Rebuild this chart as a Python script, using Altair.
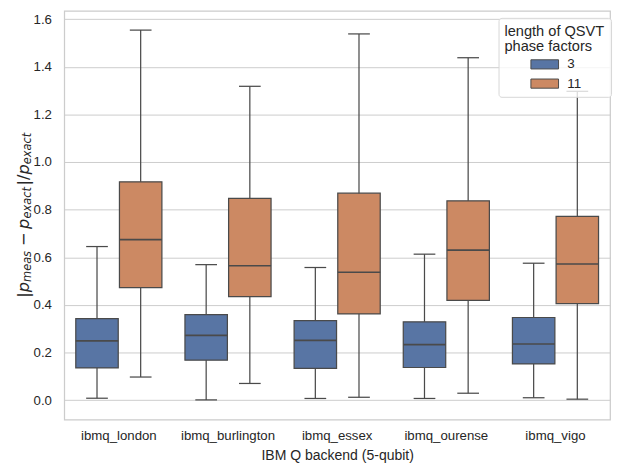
import altair as alt
import pandas as pd

# ---------------- data ----------------
backends = ["ibmq_london", "ibmq_burlington", "ibmq_essex", "ibmq_ourense", "ibmq_vigo"]
lengths = ["3", "11"]

# QSVT phase-factor length 3
lo_3 = [0.008, 0.001, 0.007, 0.007, 0.010]
q1_3 = [0.135, 0.168, 0.133, 0.137, 0.152]
med_3 = [0.249, 0.272, 0.251, 0.233, 0.236]
q3_3 = [0.342, 0.359, 0.334, 0.329, 0.347]
hi_3 = [0.645, 0.569, 0.557, 0.613, 0.575]

# QSVT phase-factor length 11
lo_11 = [0.097, 0.070, 0.012, 0.029, 0.004]
q1_11 = [0.472, 0.435, 0.362, 0.419, 0.405]
med_11 = [0.674, 0.564, 0.537, 0.630, 0.572]
q3_11 = [0.917, 0.847, 0.869, 0.837, 0.772]
hi_11 = [1.554, 1.318, 1.538, 1.438, 1.297]

y_ticks = [0.0, 0.2, 0.4, 0.6, 0.8, 1.0, 1.2, 1.4, 1.6]
y_domain = [-0.0817, 1.6344]

x_title = "IBM Q backend (5-qubit)"
legend_title = ["length of QSVT", "phase factors"]

# ---------------- table ----------------
rows = []
for ln, lo, q1, md, q3, hi in [
    ("3", lo_3, q1_3, med_3, q3_3, hi_3),
    ("11", lo_11, q1_11, med_11, q3_11, hi_11),
]:
    for i, b in enumerate(backends):
        rows.append(dict(backend=b, length=ln, lo=lo[i], q1=q1[i], med=md[i], q3=q3[i], hi=hi[i]))
df = pd.DataFrame(rows)

# ---------------- styling ----------------
BLUE = "#5875a4"
ORANGE = "#cc8963"
LINE = "#4a4a4a"
GRID = "#cccccc"
TXT = "#262626"
FONT = "Liberation Sans"
W, H = 553, 414

x_enc = alt.X(
    "backend:N",
    sort=backends,
    scale=alt.Scale(paddingInner=0, paddingOuter=0),
    axis=alt.Axis(
        title=x_title,
        labelAngle=0,
        labelPadding=9.5,
        ticks=False,
        tickSize=0,
        domain=False,
        grid=False,
        labelFontSize=13.4,
        titleFontSize=14.2,
        titleFontWeight="normal",
        titleY=29.5,
    ),
)
xo_enc = alt.XOffset("length:N", sort=lengths, scale=alt.Scale(paddingInner=0, paddingOuter=0.25))
y_scale = alt.Scale(domain=y_domain, nice=False, zero=False)
y_axis = alt.Axis(
    title=None,
    values=y_ticks,
    format=".1f",
    ticks=False,
    tickSize=0,
    domain=False,
    grid=True,
    gridColor=GRID,
    gridWidth=1,
    labelPadding=13,
    labelFontSize=13.4,
)

base = alt.Chart(df)

whisker = base.mark_rule(color=LINE, strokeWidth=1.25).encode(
    x=x_enc, xOffset=xo_enc,
    y=alt.Y("lo:Q", scale=y_scale, axis=y_axis),
    y2="hi:Q",
)

box = base.mark_bar(size=43, stroke=LINE, strokeWidth=1.25, opacity=1).encode(
    x=x_enc, xOffset=xo_enc,
    y=alt.Y("q1:Q", scale=y_scale, axis=y_axis),
    y2="q3:Q",
    color=alt.Color(
        "length:N",
        sort=lengths,
        scale=alt.Scale(domain=lengths, range=[BLUE, ORANGE]),
        legend=alt.Legend(
            title=legend_title,
            orient="none",
            legendX=440,
            legendY=7,
            padding=6,
            fillColor="rgba(255,255,255,0.8)",
            strokeColor="#d6d6d6",
            cornerRadius=3,
            titleFont=FONT,
            titleFontSize=14.8,
            titleFontWeight="normal",
            titleColor=TXT,
            titleLineHeight=15.5,
            titlePadding=4,
            titleLimit=300,
            labelFont=FONT,
            labelFontSize=13.6,
            labelColor=TXT,
            symbolType="M-2.8,-0.93L2.8,-0.93L2.8,0.93L-2.8,0.93Z",
            symbolSize=100,
            symbolStrokeColor=LINE,
            symbolStrokeWidth=1,
            symbolOffset=34,
            labelOffset=16,
            rowPadding=4.5,
        ),
    ),
)

median = base.mark_tick(size=43, thickness=1.6, color=LINE, opacity=1).encode(
    x=x_enc, xOffset=xo_enc, y=alt.Y("med:Q", scale=y_scale, axis=y_axis)
)
cap_lo = base.mark_tick(size=22, thickness=1.25, color=LINE, opacity=1).encode(
    x=x_enc, xOffset=xo_enc, y=alt.Y("lo:Q", scale=y_scale, axis=y_axis)
)
cap_hi = base.mark_tick(size=22, thickness=1.25, color=LINE, opacity=1).encode(
    x=x_enc, xOffset=xo_enc, y=alt.Y("hi:Q", scale=y_scale, axis=y_axis)
)

# ---------------- y axis title (math-like, rotated) ----------------
M = 16.5
S = M * 0.7
adv = {"|": 0.337, "/": 0.337, "p": 0.635, "−": 0.838,
       "m": 0.974, "e": 0.615, "a": 0.613, "s": 0.521, "x": 0.592, "c": 0.550, "t": 0.392}
segments = [  # text, is_sub, italic, gap_before, gap_after
    ("|", False, False, 0, 0),
    ("p", False, True, 0, 0),
    ("meas", True, True, 0, 1.5),
    ("−", False, False, 3.5, 3.5),
    ("p", False, True, 0, 0),
    ("exact", True, True, 0, 1.5),
    ("|", False, False, 0, 0),
    ("/", False, False, 0, 0),
    ("p", False, True, 0, 0),
    ("exact", True, True, 0, 0),
]
def seg_len(t, sub):
    return sum(adv[c] for c in t) * (S if sub else M)

total = sum(g0 + seg_len(t, sb) + g1 for t, sb, it, g0, g1 in segments)
center_y = 207
pos = center_y + total / 2
title_layers = []
dummy = pd.DataFrame({"k": [0]})
for t, sb, it, g0, g1 in segments:
    pos -= g0
    title_layers.append(
        alt.Chart(dummy).mark_text(
            text=t, angle=270, align="left", baseline="alphabetic",
            font="DejaVu Sans", fontSize=S if sb else M,
            fontStyle="italic" if it else "normal", color=TXT,
        ).encode(x=alt.value(-34 if sb else -36), y=alt.value(pos))
    )
    pos -= seg_len(t, sb) + g1

chart = alt.layer(whisker, box, median, cap_lo, cap_hi, *title_layers).properties(
    width=W,
    height=H,
    padding={"left": 57, "top": 0, "right": 5, "bottom": 42},
    autosize=alt.AutoSizeParams(type="none"),
    background="white",
).configure_view(
    stroke=GRID, strokeWidth=1.25
).configure_axis(
    labelFont=FONT, titleFont=FONT, labelColor=TXT, titleColor=TXT
)

chart.save("out.html", embed_options={"renderer": "svg", "actions": False})
